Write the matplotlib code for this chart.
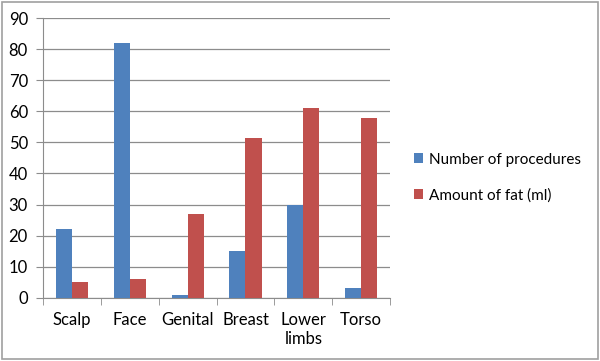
import numpy as np
import matplotlib.pyplot as plt
from matplotlib.patches import Rectangle

categories = ["Scalp", "Face", "Genital", "Breast", "Lower\nlimbs", "Torso"]
procedures = [22, 82, 1, 15, 30, 3]
fat_ml = [5, 6, 27, 51.5, 61, 58]

plt.rcParams['font.family'] = ['Lato', 'DejaVu Sans']

fig = plt.figure(figsize=(6.0, 3.61), dpi=100)
ax = fig.add_axes([0.072, 0.175, 0.578, 0.775])

x = np.arange(len(categories))
w = 0.28
ax.bar(x - w / 2, procedures, w, color='#4F81BD', label='Number of procedures', zorder=3)
ax.bar(x + w / 2, fat_ml, w, color='#C0504D', label='Amount of fat (ml)', zorder=3)

ax.set_xlim(-0.5, len(categories) - 0.5)
ax.set_ylim(0, 90)
ax.set_yticks(range(0, 91, 10))
ax.yaxis.grid(True, color='#8c8c8c', linewidth=0.9, zorder=0)

ax.set_xticks(x)
ax.set_xticklabels(categories, fontsize=12, linespacing=1.25)
ax.tick_params(axis='x', length=0, pad=10)
ax.set_xticks(np.arange(-0.5, len(categories)), minor=True)
ax.tick_params(axis='x', which='minor', length=5, color='#8c8c8c')
ax.tick_params(axis='y', labelsize=12, length=5, color='#8c8c8c', pad=6)

for s in ['top', 'right']:
    ax.spines[s].set_visible(False)
for s in ['left', 'bottom']:
    ax.spines[s].set_color('#8c8c8c')

ax.legend(loc='center left', bbox_to_anchor=(1.03, 0.43), frameon=False,
          fontsize=11, handlelength=0.6, handleheight=0.6, labelspacing=1.4,
          handletextpad=0.35)

fig.patches.append(Rectangle((0.003, 0.005), 0.994, 0.99, transform=fig.transFigure,
                             fill=False, edgecolor='#a0a0a0', linewidth=1.2))

fig.savefig('out.png')
